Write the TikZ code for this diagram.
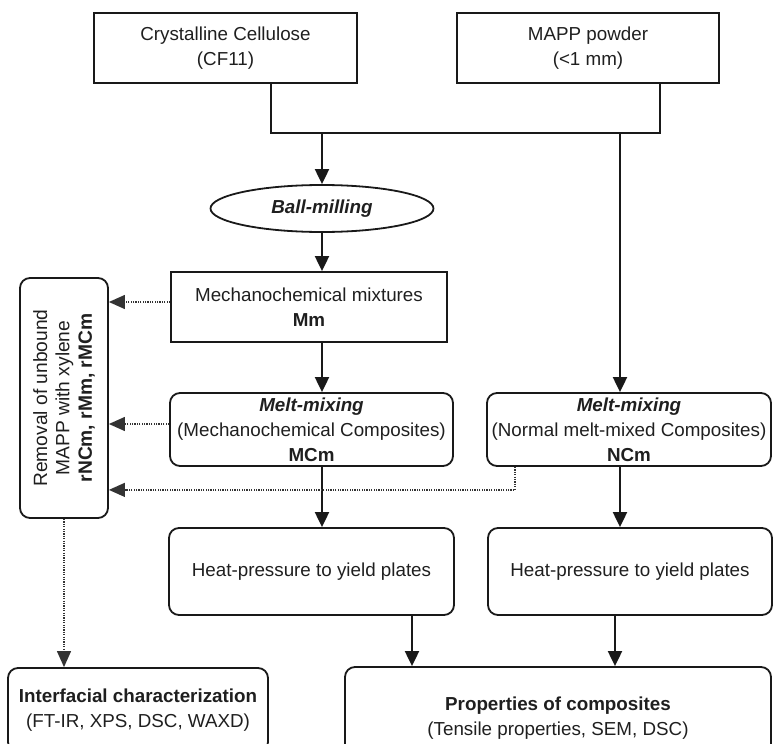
\documentclass[tikz,border=0pt]{standalone}
\usepackage{fontspec}
\setmainfont{Liberation Sans}
\usetikzlibrary{arrows.meta,shapes.geometric}
\newcommand\fsz{\fontsize{9.4}{12.4}\selectfont}
\newcommand\fszr{\fontsize{9.6}{11.2}\selectfont}
\begin{document}
\begin{tikzpicture}[x=0.5pt,y=-0.5pt,
  box/.style={draw=black!90, line width=0.9pt, inner sep=0pt, align=center, font=\fsz, text=black!88},
  rbox/.style={box, rounded corners=5pt},
  ln/.style={draw=black!90, line width=1pt},
  arr/.style={ln, -{Triangle[length=7.5pt,width=7pt]}},
  darr/.style={draw=black!80, line width=0.6pt, dash pattern=on 0.6pt off 0.6pt, -{Triangle[length=8pt,width=7pt]}}]
\useasboundingbox (0,0) rectangle (773,744);
\clip (0,0) rectangle (773,744);
% nodes
\node[box, minimum width=131.5pt, minimum height=35pt] (cf) at (225.5,48) {Crystalline Cellulose\\(CF11)};
\node[box, minimum width=131pt, minimum height=35pt] (mapp) at (588,48) {MAPP powder\\(<1 mm)};
\node[box, ellipse, minimum width=111.5pt, minimum height=23.5pt] (ball) at (322,208.5) {\textbf{\textit{Ball-milling}}};
\node[box, minimum width=138pt, minimum height=35pt] (mm) at (309,307) {Mechanochemical mixtures\\\textbf{Mm}};
\node[rbox, minimum width=141.5pt, minimum height=36.5pt] (mcm) at (311.5,429.5) {\textbf{\textit{Melt-mixing}}\\(Mechanochemical Composites)\\\textbf{MCm}};
\node[rbox, minimum width=142pt, minimum height=36.5pt] (ncm) at (629,429.5) {\textbf{\textit{Melt-mixing}}\\(Normal melt-mixed Composites)\\\textbf{NCm}};
\node[rbox, minimum width=142.5pt, minimum height=43.5pt] (heat1) at (311.5,571.5) {Heat-pressure to yield plates};
\node[rbox, minimum width=142pt, minimum height=43.5pt] (heat2) at (630,571.5) {Heat-pressure to yield plates};
\node[rbox, minimum width=130pt, minimum height=42pt] (inter) at (138,710) {\textbf{Interfacial characterization}\\(FT-IR, XPS, DSC, WAXD)};
\node[rbox, minimum width=213pt, minimum height=51pt] (props) at (558,718) {\textbf{Properties of composites}\\(Tensile properties, SEM, DSC)};
\node[rbox, minimum width=44pt, minimum height=120pt] (rem) at (64,398) {};
\node[rotate=90, align=center, font=\fszr, text=black!88, inner sep=0pt] (remtext) at (rem.center) {Removal of unbound\\MAPP with xylene\\\textbf{rNCm, rMm, rMCm}};
% junction
\coordinate (jl) at (271,133);
\coordinate (jr) at (660,133);
\coordinate (jn) at (620,133);
\draw[ln] (cf.south -| jl) -- (jl) -- (jr) -- (mapp.south -| jr);
\draw[arr] (ball.north |- jl) -- (ball.north);
\draw[arr] (jn) -- (jn |- ncm.north);
\draw[arr] (ball.south) -- (ball.south |- mm.north);
\draw[arr] (ball.south |- mm.south) -- (ball.south |- mcm.north);
\draw[arr] (ball.south |- mcm.south) -- (ball.south |- heat1.north);
\draw[arr] (jn |- ncm.south) -- (jn |- heat2.north);
\draw[arr] ([xshift=50.25pt]heat1.south) -- ([xshift=50.25pt]heat1.south |- props.north);
\draw[arr] ([xshift=-7.5pt]heat2.south) -- ([xshift=-7.5pt]heat2.south |- props.north);
% dotted
\draw[darr] ([yshift=2.5pt]mm.west) -- ([yshift=2.5pt]mm.west -| rem.east);
\draw[darr] ([yshift=2.75pt]mcm.west) -- ([yshift=2.75pt]mcm.west -| rem.east);
\draw[darr] ([xshift=-57pt]ncm.south) -- ++(0pt,-11.5pt) coordinate (nd) -- (nd -| rem.east);
\draw[darr] (rem.south) -- (rem.south |- inter.north);
\end{tikzpicture}
\end{document}
